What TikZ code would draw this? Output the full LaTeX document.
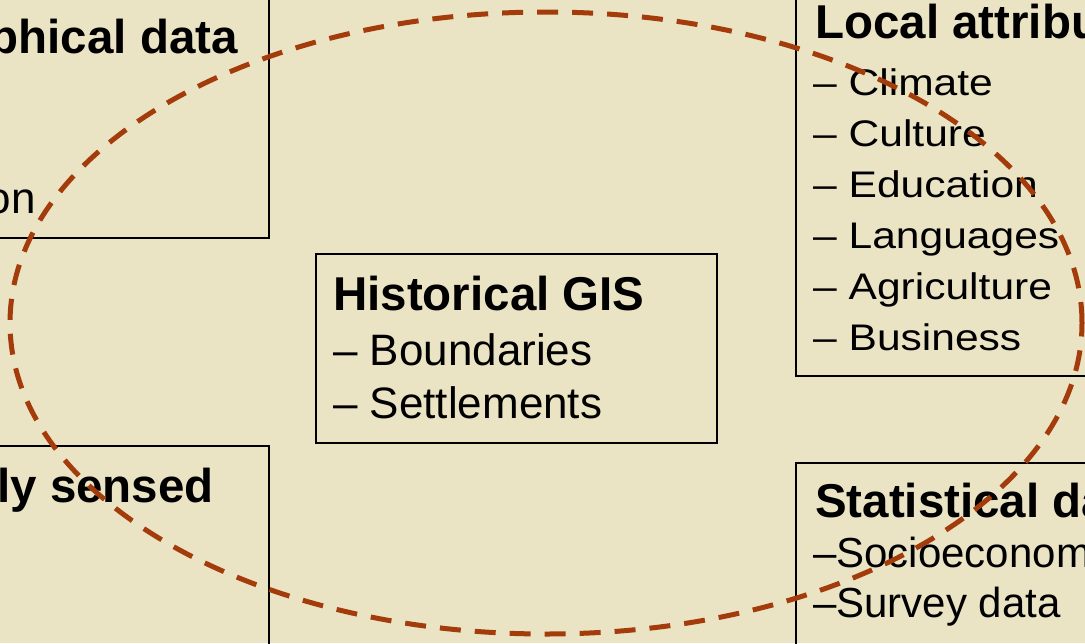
\documentclass[tikz,border=0pt]{standalone}
\usepackage{fontspec}
\setmainfont{Liberation Sans}
\newfontfamily\widefont[FakeStretch=1.15]{Liberation Sans}
\usepackage{tikz}
\usetikzlibrary{positioning}
\definecolor{PaperBg}{HTML}{EAE4C5}
\definecolor{RingLine}{HTML}{A33B0B}

\tikzset{
    boxframe/.style={draw=black, line width=2pt, fill=none, inner sep=0pt, anchor=north west},
    headtext/.style={inner sep=0pt, font=\fontsize{47.5}{52}\selectfont\bfseries},
    itemtext/.style={inner sep=0pt, font=\fontsize{44}{52}\selectfont},
    listtext/.style={inner sep=0pt, font=\widefont\fontsize{37}{51}\selectfont},
    stattext/.style={inner sep=0pt, font=\fontsize{42}{50}\selectfont},
    ringline/.style={draw=RingLine, line width=5pt, dash pattern=on 21pt off 14pt}
}

\begin{document}
\begin{tikzpicture}[x=1pt, y=-1pt]
    \useasboundingbox (0,0) rectangle (1085,643);
    \clip (0,0) rectangle (1085,643);
    \fill[PaperBg] (0,0) rectangle (1085,643);

    % frames, partly outside the slide crop
    \node[boxframe, minimum width=568pt, minimum height=287pt] (geo) at (-300,-50) {};
    \node[boxframe, minimum width=568pt, minimum height=300pt] (sensed) at (-300,445) {};
    \node[boxframe, minimum width=401pt, minimum height=189pt] (hist) at (315,253) {};
    \node[boxframe, minimum width=500pt, minimum height=425pt] (local) at (795,-50) {};
    \node[boxframe, minimum width=500pt, minimum height=300pt] (stat) at (795,462) {};

    % left boxes
    \node[headtext, anchor=base east] (geohead) at (238,53) {phical data};
    \node[itemtext, anchor=base east] (geoitem) at (36,213) {on};
    \node[headtext, anchor=base east] (sensedhead) at (214,502) {ly sensed};

    % centre
    \node[headtext, anchor=base west] (histhead) at (333,310) {Historical GIS};
    \foreach \txt [count=\i] in {Boundaries, Settlements}
        \node[itemtext, anchor=base west] (histitem\i) at (333,312+53*\i) {– \txt};

    % right boxes
    \node[headtext, anchor=base west] (localhead) at (815,38) {Local attributes};
    \foreach \txt [count=\i] in {Climate, Culture, Education, Languages, Agriculture, Business}
        \node[listtext, anchor=base west] (localitem\i) at (813,44+51*\i) {– \txt};

    \node[headtext, anchor=base west] (stathead) at (815,517) {Statistical data};
    \foreach \txt [count=\i] in {Socioeconomic, Survey data}
        \node[stattext, anchor=base west] (statitem\i) at (813,517+50*\i) {–\txt};

    % dashed ring
    \draw[ringline] (546,323) ellipse [x radius=536pt, y radius=311pt];
\end{tikzpicture}
\end{document}
